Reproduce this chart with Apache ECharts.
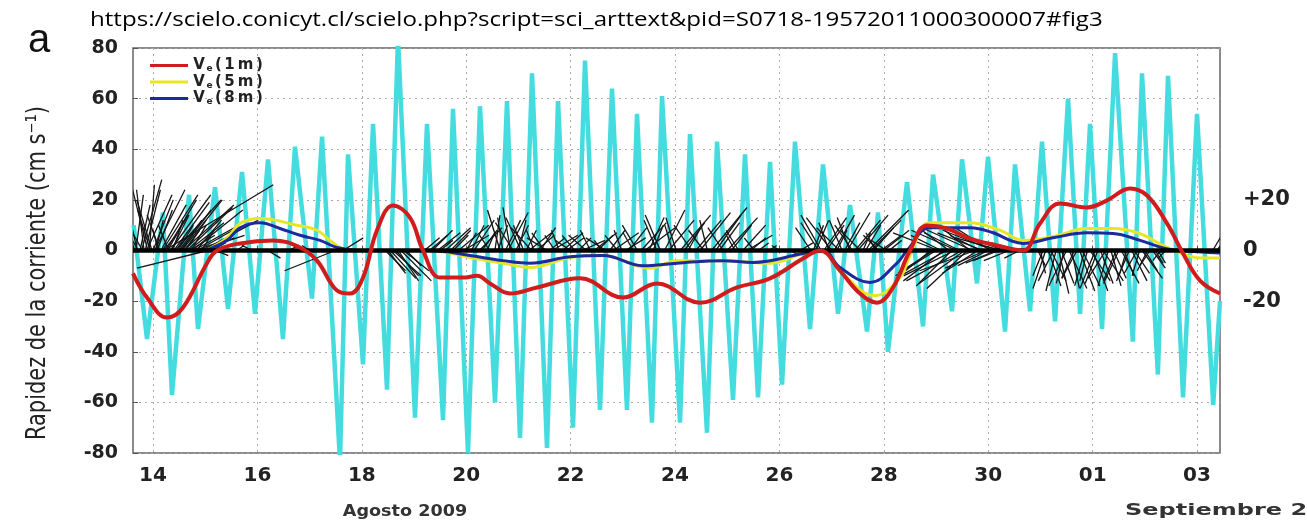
<!DOCTYPE html>
<html><head><meta charset="utf-8">
<script src="https://cdn.jsdelivr.net/npm/echarts@6/dist/echarts.min.js"></script>
<style>html,body{margin:0;padding:0;background:#fff}#c{width:1307px;height:527px}</style>
</head><body><div id="c"></div>
<script>
// x values: day of August 2009 (01 Sept = 32)
const xTicks = [14,16,18,20,22,24,26,28,30,32,34];
const yTicksRight = [-20,0,20];
const xMin = 13.617, xMax = 34.44;

// Cyan: tidal current (peaks and troughs)
const cyanDay = [13.63,13.885,14.19,14.364,14.69,14.862,15.188,15.437,15.705,15.954,16.203,16.49,16.72,17.046,17.238,17.582,17.736,18.023,18.215,18.483,18.693,19.019,19.249,19.556,19.747,20.034,20.264,20.552,20.782,21.031,21.261,21.548,21.759,22.046,22.276,22.563,22.793,23.08,23.272,23.559,23.751,24.096,24.287,24.613,24.805,25.111,25.341,25.59,25.82,26.05,26.299,26.586,26.835,27.123,27.352,27.678,27.889,28.08,28.444,28.751,28.943,29.307,29.498,29.785,29.996,30.322,30.513,30.801,31.03,31.28,31.529,31.759,31.95,32.18,32.43,32.77,32.946,33.25,33.444,33.732,34.0,34.31,34.44];
const cyanVel = [10,-35,15,-57,22,-31,25,-23,31,-25,36,-35,41,-19,45,-83,38,-45,50,-55,84,-66,50,-67,56,-80,57,-60,59,-74,70,-78,59,-70,75,-63,64,-63,54,-68,61,-68,46,-72,43,-59,38,-58,35,-53,43,-31,34,-25,18,-32,15,-40,27,-30,30,-24,36,-13,37,-32,34,-24,43,-28,60,-25,50,-31,78,-36,70,-49,69,-58,54,-61,-20];

// Ve(1m)
const redDay = [13.617,13.885,14.268,14.575,15.034,15.226,15.667,16.299,16.816,17.142,17.525,17.774,18.023,18.291,18.598,18.923,19.172,19.498,19.939,20.207,20.456,20.839,21.356,22.18,23.004,23.655,24.479,25.188,25.82,26.452,26.778,27.161,27.544,27.87,28.176,28.502,28.828,29.211,29.651,30.169,30.667,30.992,31.375,31.893,32.276,32.716,33.042,33.425,33.732,34.057,34.44];
const redVel = [-9,-18.6,-26.5,-22.5,-5,0,2.8,4,1.2,-4,-15.8,-17,-10.7,8,17.8,13,0,-10.7,-10.7,-10,-13,-17,-14.6,-11,-18.6,-13,-20.6,-14.6,-11,-3.2,0,-8,-17,-20.6,-14.6,0,9.9,8.7,4.7,2,0,10.7,18.6,17,19.8,24.5,21.7,10.7,-1.2,-11.9,-17];
// Ve(5m)
const yelDay = [15.0,15.418,15.667,16.05,16.759,17.142,17.391,17.678,18.35,19.31,19.69,20.073,20.705,21.222,21.989,22.621,23.521,24.038,24.92,25.82,26.452,26.835,27.161,27.831,28.31,28.502,28.885,29.651,30.226,30.667,31.241,31.893,32.391,32.908,33.425,34.115,34.44];
const yelVel = [0,5,10.7,12.6,10,8,4,0.5,0,0,-1,-2.8,-5,-6.7,-2.8,-2,-7,-4,-4,-5,-1.2,0,-8,-17.8,-10.7,-2,11,11,8,4,5.5,8.7,8.7,6.7,1.2,-3,-3];
// Ve(8m)
const bluDay = [15.0,15.418,15.667,16.05,16.433,16.816,17.199,17.525,17.97,19.31,20.073,20.705,21.222,21.989,22.621,23.387,24.038,24.92,25.494,26.452,26.835,27.161,27.736,28.253,28.444,28.885,29.651,30.092,30.418,30.667,31.241,31.893,32.391,32.908,33.349,33.674,34.44];
const bluVel = [0,4,9,11,8.7,6,4,1.2,0,0,-2,-4,-5,-2.5,-2,-6,-5,-4,-4.7,-1.2,0,-6.7,-12.6,-5,0,9,9,7,4,2.8,5,7,6.7,4,1,0,-1];

// Stick vectors (time, east, north components, cm/s)
const stickDay = [13.65,13.70,13.75,13.80,13.85,13.90,13.95,14.00,14.05,14.10,14.15,14.20,14.22,14.25,14.30,14.35,14.40,14.45,14.50,14.55,14.60,14.65,14.70,14.75,14.80,14.85,14.90,14.95,15.00,15.05,15.10,15.20,
 15.6,15.9,16.2,16.6,17.0,17.49,17.64,
 18.45,18.55,18.65,18.75,18.85,
 19.2,19.35,19.5,19.6,19.75,19.85,20.0,20.15,20.3,20.45,
 20.55,20.65,20.75,20.85,20.95,21.05,21.15,21.25,21.35,21.5,21.6,21.7,21.85,22.0,22.15,22.3,22.45,22.6,22.75,22.9,23.05,23.2,23.35,23.5,
 23.65,23.8,23.95,24.1,24.25,24.4,24.55,24.7,24.85,25.0,25.15,25.3,25.45,25.6,
 25.8,26.0,26.2,26.4,
 26.6,26.7,26.8,26.9,27.0,27.1,27.2,27.3,27.4,27.5,27.6,27.7,27.8,27.9,28.0,28.1,
 28.9,29.0,29.1,29.2,29.3,29.4,29.5,29.6,29.7,29.8,29.9,30.0,30.1,30.2,30.3,30.45,30.6,
 30.95,31.05,31.15,31.25,31.35,31.45,31.55,31.65,31.75,31.85,31.95,32.05,32.15,32.25,32.35,32.45,32.55,32.65,32.75,32.85,32.95,33.05,33.15,33.25,33.4,
 34.3,34.38,
 13.67,13.72,13.78,13.83,13.88,13.93,13.98,14.03,14.08,14.13,14.18,14.28,14.33,14.38,14.43,14.48,14.53,14.58,14.63,14.68,14.73,14.78,14.83,14.88,14.93,14.98,
 18.5,18.6,18.7,18.8,19.3,19.45,19.7,19.95,20.1,20.25,20.4,
 20.6,20.7,20.8,20.9,21.0,21.1,21.2,21.3,21.42,21.55,21.65,21.78,21.92,22.08,22.22,22.38,22.52,22.68,22.82,22.98,23.12,23.28,23.42,
 23.58,23.72,23.88,24.02,24.18,24.32,24.48,24.62,24.78,24.92,25.08,25.22,25.38,25.52,
 26.65,26.75,26.85,26.95,27.05,27.15,27.25,27.35,27.45,27.55,27.65,27.75,27.85,27.95,28.05,
 28.95,29.05,29.15,29.25,29.35,29.45,29.55,29.65,29.75,29.85,29.95,30.05,30.15,30.25,30.4,
 31.0,31.1,31.2,31.3,31.4,31.5,31.6,31.7,31.8,31.9,32.0,32.1,32.2,32.3,32.4,32.5,32.6,32.7,32.8,32.9,33.0,33.1,33.2,33.3];
const stickU = [-10,-6,4,-8,6,-8,-5,8,3,-2,10,5,43,12,-4,7,14,3,9,16,6,18,10,20,12,14,8,22,10,-28,6,5,
 3,-4,5,4,-3,-20,8,
 8,10,9,12,6,
 6,8,5,10,6,12,4,8,6,-4,
 2,-5,6,-3,5,-6,4,-8,7,-5,6,-4,8,-6,5,-7,9,-3,6,-5,8,-4,10,6,
 -5,8,-3,12,5,10,-6,14,8,12,-4,9,6,4,
 3,-3,4,5,
 -6,5,-8,7,-10,4,-5,9,-7,12,3,16,8,-6,10,5,
 -10,-16,-12,-20,-14,-18,-22,-16,-20,-14,-18,-12,-20,-10,-16,-8,-6,
 3,-4,5,-6,4,-3,7,-5,6,-4,8,-6,5,-7,4,-5,7,-3,6,-5,8,-4,5,3,-3,
 6,10,
 3,-12,8,-3,10,2,-6,12,6,-5,14,8,16,4,18,6,12,20,8,14,6,16,10,18,5,12,
 7,11,8,10,7,9,8,10,5,9,3,
 4,-2,8,-7,3,-4,9,-3,6,-8,10,-3,7,-5,9,-4,6,-8,10,-3,7,-6,12,
 4,-6,10,-4,8,-7,12,-3,10,-6,8,-5,10,-4,
 4,-7,9,-4,8,-9,6,-5,10,-8,6,12,-4,8,-6,
 -14,-18,-16,-12,-20,-14,-18,-10,-22,-12,-16,-14,-12,-18,-10,
 2,-5,6,-4,5,-7,3,-6,7,-3,6,-5,8,-4,5,-6,4,-5,6,-3,5,-4,3,-3];
const stickV = [30,26,18,14,24,32,16,20,12,8,18,6,26,20,10,14,19,5,12,20,8,17,6,16,4,8,3,12,2,-7,3,-2,
 2,2,-3,2,2,-8,5,
 -8,-11,-10,-12,-6,
 5,8,4,9,6,10,7,12,8,6,
 14,16,12,17,10,13,8,9,6,7,5,6,7,4,5,6,7,4,8,6,5,7,11,13,
 12,16,10,14,9,12,8,17,11,13,7,10,5,3,
 2,2,-2,3,
 9,12,14,10,13,8,12,15,10,14,7,16,9,6,8,4,
 -8,-10,6,-11,-14,8,-12,-15,9,-9,7,-6,8,-4,6,3,-3,
 -6,-10,-14,-12,-17,-13,-15,-11,-16,-14,-12,-15,-13,-11,-14,-12,-13,-10,-12,-9,-11,-8,-7,-5,-3,
 10,14,
 22,20,28,24,22,26,20,24,16,14,22,14,22,12,20,10,16,18,12,11,10,9,12,6,8,5,
 -9,-10,-12,-8,6,7,8,6,10,9,7,
 10,13,15,11,12,10,7,8,9,5,6,8,5,6,4,8,6,5,7,8,9,10,9,
 10,14,12,13,11,10,15,12,14,9,10,8,6,5,
 10,11,13,11,14,9,11,13,12,8,10,12,7,6,4,
 -9,7,-12,9,-10,7,-13,8,-8,6,-7,9,-5,5,-4,
 -9,-15,-12,-16,-13,-14,-15,-11,-14,-12,-16,-13,-12,-14,-11,-13,-10,-12,-9,-10,-8,-6,-5,-4];

const zip = (a, b) => a.map((v, i) => [v, b[i]]);
const sticks = stickDay.map((t, i) => [t, stickU[i], stickV[i]]);
const fmtDay = v => v > 31 ? ('0' + (v - 31)) : String(v);
const FONT = 'DejaVu Sans';

const chart = echarts.init(document.getElementById('c'));
chart.setOption({
  animation: false,
  backgroundColor: '#fff',
  grid: {left: 133, right: 87, top: 48, bottom: 74, show: true, borderColor: '#666', borderWidth: 1.5},
  xAxis: {
    type: 'value', min: xMin, max: xMax,
    axisLine: {show: false},
    axisTick: {show: true, inside: true, length: 5, customValues: xTicks, lineStyle: {color: '#555'}},
    axisLabel: {customValues: xTicks, formatter: fmtDay, margin: 13, color: '#222', fontFamily: FONT, fontWeight: 'bold', fontSize: 20},
    splitLine: {show: true, lineStyle: {type: [2, 4], color: '#aaa', width: 1}}
  },
  yAxis: [{
    type: 'value', min: -80, max: 80, interval: 20,
    axisLine: {show: false},
    axisTick: {show: true, inside: true, length: 5, lineStyle: {color: '#555'}},
    axisLabel: {margin: 15, color: '#222', fontFamily: FONT, fontWeight: 'bold', fontSize: 19},
    splitLine: {show: true, lineStyle: {type: [2, 4], color: '#aaa', width: 1}}
  }, {
    type: 'value', min: -80, max: 80, position: 'right',
    axisLine: {show: false}, axisTick: {show: false}, splitLine: {show: false},
    axisLabel: {customValues: yTicksRight, formatter: v => v > 0 ? '+' + v : String(v), margin: 23, color: '#222', fontFamily: FONT, fontWeight: 'bold', fontSize: 21}
  }],
  legend: {
    left: 145, top: 53, orient: 'vertical', itemGap: 1, itemWidth: 38, itemHeight: 3, icon: 'rect',
    data: ['Ve(1m)', 'Ve(5m)', 'Ve(8m)'],
    formatter: n => '{v|V}{s|e}{p|(}{n|' + n[3] + '}{m|m}{p|)}',
    textStyle: {rich: {
      v: {fontFamily: FONT, fontWeight: 'bold', fontSize: 15, color: '#222', width: 12, align: 'center', lineHeight: 17},
      s: {fontFamily: FONT, fontWeight: 'bold', fontSize: 9, color: '#222', width: 9, align: 'center', padding: [7, 0, 0, 0]},
      p: {fontFamily: FONT, fontWeight: 'bold', fontSize: 15, color: '#222', width: 9, align: 'center', lineHeight: 17},
      n: {fontFamily: FONT, fontWeight: 'bold', fontSize: 15, color: '#222', width: 13, align: 'center', lineHeight: 17},
      m: {fontFamily: FONT, fontWeight: 'bold', fontSize: 15, color: '#222', width: 19, align: 'center', lineHeight: 17}
    }}
  },
  graphic: [
    {type: 'text', x: 90, y: 20, scaleX: 1.205, style: {text: 'https://scielo.conicyt.cl/scielo.php?script=sci_arttext&pid=S0718-19572011000300007#fig3', font: '20px "Open Sans"', fill: '#000', verticalAlign: 'middle'}},
    {type: 'text', x: 28, y: 41, style: {text: 'a', font: '40px "Liberation Sans"', fill: '#111', verticalAlign: 'middle'}},
    {type: 'text', x: 38, y: 273, rotation: Math.PI / 2, scaleX: 0.97, scaleY: 1.1, style: {text: 'Rapidez de la corriente (cm s\u207B\u00B9)', font: '24px "DejaVu Sans Condensed"', fill: '#222', align: 'center', verticalAlign: 'middle'}},
    {type: 'text', x: 405, y: 512, scaleX: 1.1, style: {text: 'Agosto 2009', font: 'bold 16px "DejaVu Sans"', fill: '#333', align: 'center', verticalAlign: 'middle'}},
    {type: 'text', x: 1125, y: 511, scaleX: 1.5, style: {text: 'Septiembre 2009', font: 'bold 16px "DejaVu Sans"', fill: '#333', align: 'left', verticalAlign: 'middle'}}
  ],
  series: [
    {name: 'tide', type: 'line', data: zip(cyanDay, cyanVel), showSymbol: false, lineStyle: {color: '#45dcdf', width: 4.5}, z: 1},
    {name: 'sticks', type: 'custom', data: sticks, encode: {x: 0, y: 2}, clip: true, z: 2,
      renderItem: (params, api) => {
        const kx = api.size([1, 0])[0], ky = api.size([0, 1])[1];
        const t = api.value(0), u = api.value(1), v = api.value(2);
        const p0 = api.coord([t, 0]);
        const p1 = api.coord([t + u * ky / kx, v]);
        return {type: 'line', shape: {x1: p0[0], y1: p0[1], x2: p1[0], y2: p1[1]}, style: {stroke: '#151515', lineWidth: 1.3}};
      },
      markLine: {silent: true, symbol: 'none', label: {show: false}, lineStyle: {color: '#000', width: 4.5, type: 'solid'}, data: [{yAxis: 0}]}
    },
    {name: 'Ve(5m)', type: 'line', data: zip(yelDay, yelVel), smooth: 0.4, showSymbol: false, color: '#e6e626', lineStyle: {width: 3}, z: 3},
    {name: 'Ve(8m)', type: 'line', data: zip(bluDay, bluVel), smooth: 0.4, showSymbol: false, color: '#1c2a9c', lineStyle: {width: 3}, z: 4},
    {name: 'Ve(1m)', type: 'line', data: zip(redDay, redVel), smooth: 0.4, showSymbol: false, color: '#d01c1c', lineStyle: {width: 4}, z: 5}
  ]
});
</script></body></html>
